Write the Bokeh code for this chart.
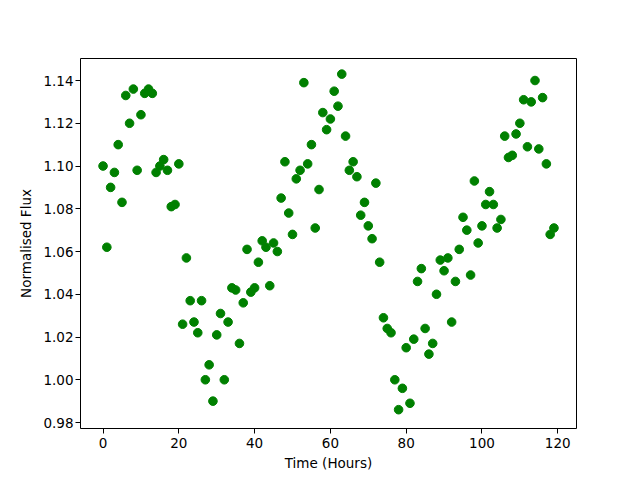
from bokeh.plotting import figure
from bokeh.models import Range1d, FixedTicker, CustomJSTickFormatter
from bokeh.embed import file_html
from bokeh.resources import INLINE

time_hours = list(range(120))
flux = [
    1.100, 1.062, 1.090, 1.097, 1.110, 1.083, 1.133, 1.120, 1.136, 1.098,
    1.124, 1.134, 1.136, 1.134, 1.097, 1.100, 1.103, 1.098, 1.081, 1.082,
    1.101, 1.026, 1.057, 1.037, 1.027, 1.022, 1.037, 1.000, 1.007, 0.990,
    1.021, 1.031, 1.000, 1.027, 1.043, 1.042, 1.017, 1.036, 1.061, 1.041,
    1.043, 1.055, 1.065, 1.062, 1.044, 1.064, 1.060, 1.085, 1.102, 1.078,
    1.068, 1.094, 1.098, 1.139, 1.101, 1.110, 1.071, 1.089, 1.125, 1.117,
    1.122, 1.135, 1.128, 1.143, 1.114, 1.098, 1.102, 1.095, 1.077, 1.083,
    1.072, 1.066, 1.092, 1.055, 1.029, 1.024, 1.022, 1.000, 0.986, 0.996,
    1.015, 0.989, 1.019, 1.046, 1.052, 1.024, 1.012, 1.017, 1.040, 1.056,
    1.051, 1.057, 1.027, 1.046, 1.061, 1.076, 1.070, 1.049, 1.093, 1.064,
    1.072, 1.082, 1.088, 1.082, 1.071, 1.075, 1.114, 1.104, 1.105, 1.115,
    1.120, 1.131, 1.109, 1.130, 1.140, 1.108, 1.132, 1.101, 1.068, 1.071,
]
x_ticks = [0, 20, 40, 60, 80, 100, 120]
y_ticks = [0.98, 1.00, 1.02, 1.04, 1.06, 1.08, 1.10, 1.12, 1.14]

p = figure(
    width=632, height=472,
    output_backend="svg", toolbar_location=None,
    x_range=Range1d(-5.95, 124.95), y_range=Range1d(0.9772, 1.1503),
    min_border_left=80, min_border_right=56, min_border_top=58, min_border_bottom=44,
    frame_width=496, frame_height=370,
)
p.scatter(time_hours, flux, size=8.6, color="#008000", line_color="#008000")

p.xgrid.visible = False
p.ygrid.visible = False
p.outline_line_color = "black"
p.outline_line_width = 1

for ax in (p.xaxis[0], p.yaxis[0]):
    ax.major_tick_in = 0
    ax.major_tick_out = 5
    ax.minor_tick_line_color = None
    ax.axis_line_color = None
    ax.major_tick_line_color = "black"
    ax.major_label_text_font = "DejaVu Sans"
    ax.major_label_text_font_size = "13.5px"
    ax.major_label_text_color = "black"
    ax.axis_label_text_font = "DejaVu Sans"
    ax.axis_label_text_font_size = "13.5px"
    ax.axis_label_text_font_style = "normal"
    ax.axis_label_text_color = "black"

p.xaxis.ticker = FixedTicker(ticks=x_ticks)
p.yaxis.ticker = FixedTicker(ticks=y_ticks)
p.yaxis.formatter = CustomJSTickFormatter(code="return tick.toFixed(2);")
p.xaxis.axis_label = "Time (Hours)"
p.yaxis.axis_label = "Normalised Flux"
p.xaxis.major_label_standoff = 4
p.yaxis.major_label_standoff = 2
p.xaxis.axis_label_standoff = 4
p.yaxis.axis_label_standoff = 6

open("out.html", "w").write(file_html(p, INLINE))
